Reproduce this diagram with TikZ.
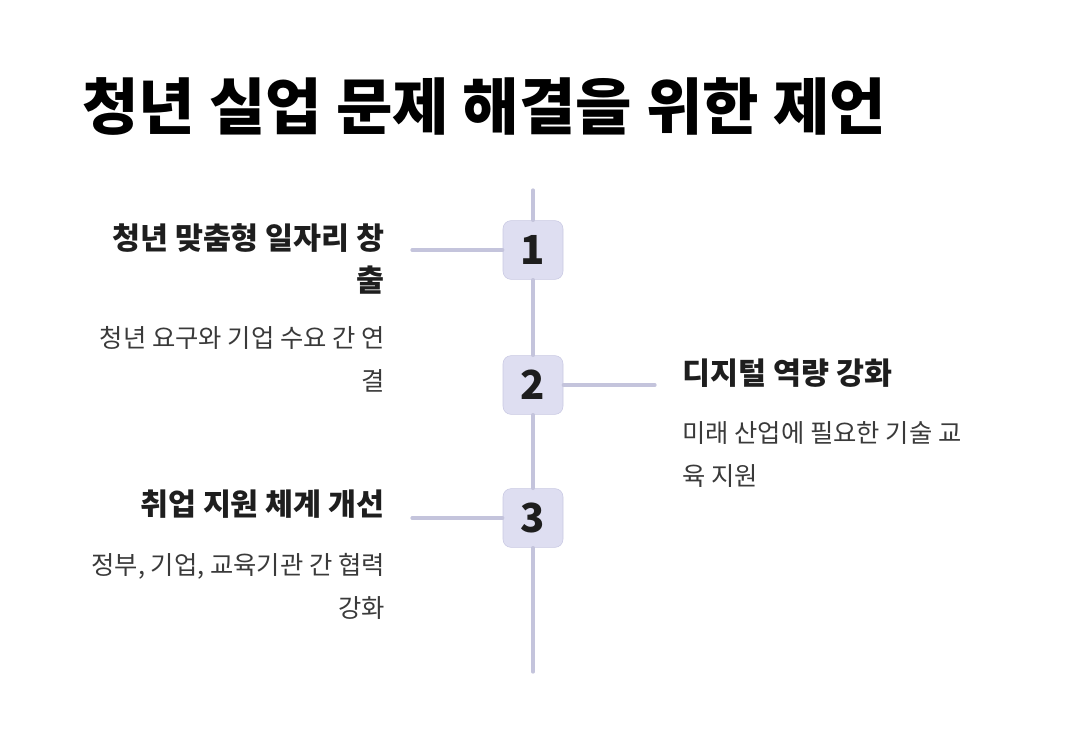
\documentclass[tikz,border=0pt]{standalone}
\usepackage{fontspec}
\setmainfont{Noto Sans CJK KR}
\usepackage{tikz}
\usetikzlibrary{positioning}

\definecolor{axisline}{RGB}{196,196,220}
\definecolor{boxfill}{RGB}{222,222,241}
\definecolor{boxdraw}{RGB}{200,200,226}
\definecolor{inkdark}{RGB}{30,30,30}
\definecolor{inkgray}{RGB}{58,58,58}

\tikzset{
    numbox/.style={draw=boxdraw, fill=boxfill, rounded corners=6pt,
        minimum width=45pt, minimum height=44pt, inner sep=0pt,
        font=\fontsize{30}{30}\selectfont\bfseries, text=inkdark},
    headtext/.style={inner sep=0pt, text=inkdark,
        font=\fontsize{22.8}{31.5}\selectfont\bfseries},
    desctext/.style={inner sep=0pt, text=inkgray,
        font=\fontsize{19}{32.5}\selectfont},
    link/.style={draw=axisline, line width=2.4pt}
}

\begin{document}
\begin{tikzpicture}[
    x=0.75pt, y=-0.75pt,
    line cap=round,
    line join=round
]
\useasboundingbox (0,0) rectangle (1072,742);

% Titolo
\node[anchor=west, inner sep=0pt, text=black,
      font=\fontsize{46}{46}\selectfont\bfseries] (title) at (82,106)
    {청년 실업 문제 해결을 위한 제언};

% Asse verticale
\coordinate (top) at (533,190);
\coordinate (bottom) at (533,672);

% Caselle numerate
\node[numbox] (n1) at (533,250) {1};
\node[numbox] (n2) at (533,385) {2};
\node[numbox] (n3) at (533,518) {3};

\draw[link] (top) -- (n1);
\draw[link] (n1) -- (n2);
\draw[link] (n2) -- (n3);
\draw[link] (n3) -- (bottom);

% Linee orizzontali
\coordinate (e1) at (412,250);
\coordinate (e2) at (655,385);
\coordinate (e3) at (412,518);
\draw[link] (n1.west) -- (e1);
\draw[link] (n2.east) -- (e2);
\draw[link] (n3.west) -- (e3);

% Etichette
\node[headtext, anchor=north east, align=right] (h1) at (385,223)
    {청년 맞춤형 일자리 창\\출};
\node[desctext, anchor=north east, align=right] (d1) at (385,326)
    {청년 요구와 기업 수요 간 연\\결};

\node[headtext, anchor=north west, align=left] (h2) at (682,359)
    {디지털 역량 강화};
\node[desctext, anchor=north west, align=left] (d2) at (682,421)
    {미래 산업에 필요한 기술 교\\육 지원};

\node[headtext, anchor=north east, align=right] (h3) at (385,490)
    {취업 지원 체계 개선};
\node[desctext, anchor=north east, align=right] (d3) at (385,553)
    {정부, 기업, 교육기관 간 협력\\강화};

\end{tikzpicture}
\end{document}
